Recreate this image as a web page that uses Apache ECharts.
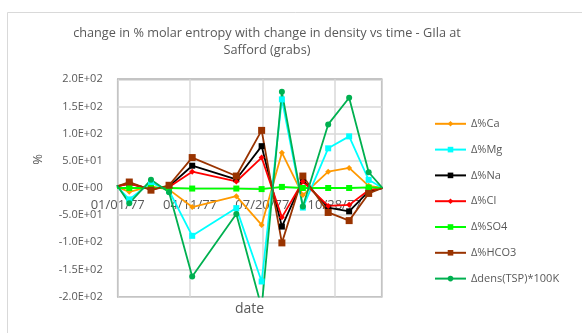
<!DOCTYPE html>
<html><head><meta charset="utf-8">
<script src="https://cdn.jsdelivr.net/npm/echarts@6/dist/echarts.min.js"></script>
<style>html,body{margin:0;padding:0;background:#fff}#c{width:582px;height:333px}</style>
</head><body><div id="c"></div>
<script>
// sample dates (first and last lie just outside the axis range and are clipped)
const dates = ['1976-12-31','1977-01-17','1977-02-16','1977-03-13','1977-04-14','1977-06-14','1977-07-19','1977-08-16','1977-09-14','1977-10-19','1977-11-17','1977-12-14','1978-01-02'];
const dCa   = [2, -7, 3, -3, -35, -15, -68, 65, -13, 30, 37, 4, 0];
const dMg   = [3, -21, 10, -5, -88, -37, -172, 163, -36, 73, 95, 15, 0];
const dNa   = [3, 8, -2, 3, 41, 16, 77, -71, 14, -36, -43, -6, 0];
const dCl   = [3, 8, -2, 2, 30, 12, 56, -54, 12, -33, -31, -4, 0];
const dSO4  = [0, 0, 0, 0, -1, -1, -2, 2, 0, 0, 0, 1, 0];
const dHCO3 = [3, 11, -4, 5, 56, 22, 106, -101, 22, -45, -60, -10, 0];
const dDens = [5, -28, 15, -8, -163, -48, -220, 177, -34, 117, 166, 29, 0];
const seriesNames = ['Δ%Ca','Δ%Mg','Δ%Na','Δ%Cl','Δ%SO4','Δ%HCO3','Δdens(TSP)*100K'];
const yTicks = {min: -200, max: 200, step: 50};
const xOrigin = '1977-01-01';

const DAY = 86400000;
const dayNum = d => (Date.parse(d) - Date.parse(xOrigin)) / DAY;
const xs = dates.map(dayNum);
const pair = arr => arr.map((v, i) => [xs[i], v]);
function fmtDate(n) {
  const t = new Date(Date.parse(xOrigin) + n * DAY);
  const p = v => String(v).padStart(2, '0');
  return p(t.getUTCMonth() + 1) + '/' + p(t.getUTCDate()) + '/' + p(t.getUTCFullYear() % 100);
}
function fmtExp(v) {
  if (v === 0) return '0.0E+00';
  let s = v.toExponential(1);
  let [m, e] = s.split('e');
  let sign = e[0];
  let ex = e.slice(1).padStart(2, '0');
  return m + 'E' + sign + ex;
}
const font = 'Open Sans';
const gray = '#595959';
const styles = [
  {c: '#FF9900', s: 'diamond', z: 6},
  {c: '#00FFFF', s: 'rect', z: 6},
  {c: '#000000', s: 'rect', z: 6},
  {c: '#FF0000', s: 'diamond', z: 6},
  {c: '#00FF00', s: 'rect', z: 6},
  {c: '#993300', s: 'rect', z: 7},
  {c: '#00B050', s: 'circle', z: 6}
];
const allData = [dCa, dMg, dNa, dCl, dSO4, dHCO3, dDens];

const gridTop = 79.3, gridBottom = 36.3, chartH = 333;
const plotH = chartH - gridTop - gridBottom;
// the date axis crosses the value axis at 0: shift it up from the bottom edge accordingly
const zeroOffset = -plotH * (0 - yTicks.min) / (yTicks.max - yTicks.min);

const chart = echarts.init(document.getElementById('c'), null, {renderer: 'canvas'});
chart.setOption({
  animation: false,
  backgroundColor: '#fff',
  title: {
    text: 'change in % molar entropy with change in density vs time - GIla at\nSafford (grabs)',
    left: 267, top: 25, textAlign: 'center', padding: 0,
    textStyle: {fontFamily: font, fontSize: 12.7, fontWeight: 'normal', color: gray, lineHeight: 17}
  },
  grid: {left: 117.7, right: 200.3, top: gridTop, bottom: gridBottom, show: true, borderColor: '#898989', borderWidth: 1.5, containLabel: false},
  legend: {
    orient: 'vertical', left: 434, top: 118.3, padding: 0,
    itemWidth: 31, itemHeight: 7, itemGap: 14.8,
    textStyle: {fontFamily: font, fontSize: 11, color: gray},
    data: seriesNames
  },
  xAxis: {
    type: 'value', min: 0, max: dayNum('1978-01-01'), interval: 100,
    position: 'bottom', offset: zeroOffset,
    axisLine: {show: false, onZero: false},
    axisTick: {show: false},
    axisLabel: {fontFamily: font, fontSize: 13, color: gray, formatter: fmtDate, showMaxLabel: false, margin: 11},
    splitLine: {show: true, lineStyle: {color: '#d9d9d9', width: 1.5}}
  },
  yAxis: {
    type: 'value', min: yTicks.min, max: yTicks.max, interval: yTicks.step,
    axisLine: {show: false, onZero: false}, axisTick: {show: false},
    axisLabel: {fontFamily: font, fontSize: 11, color: gray, formatter: fmtExp, margin: 15},
    splitLine: {show: true, lineStyle: {color: '#d9d9d9', width: 1.5}}
  },
  graphic: [
    {type: 'rect', shape: {x: 7.5, y: 12.5, width: 600, height: 400}, style: {fill: 'none', stroke: '#d9d9d9', lineWidth: 1}, silent: true, z: -10},
    {type: 'text', x: 38, y: 159.5, rotation: Math.PI / 2, style: {text: '%', fontFamily: font, fontSize: 13, fill: gray, align: 'center', verticalAlign: 'middle'}},
    {type: 'text', x: 249.5, y: 309.5, style: {text: 'date', fontFamily: font, fontSize: 14, fill: gray, align: 'center', verticalAlign: 'middle'}}
  ],
  series: seriesNames.map((n, i) => ({
    name: n, type: 'line', data: pair(allData[i]), clip: true,
    symbol: styles[i].s, symbolSize: styles[i].z, showAllSymbol: true,
    lineStyle: {color: styles[i].c, width: 1.8},
    itemStyle: {color: styles[i].c},
    emphasis: {disabled: true}
  }))
});
</script></body></html>
